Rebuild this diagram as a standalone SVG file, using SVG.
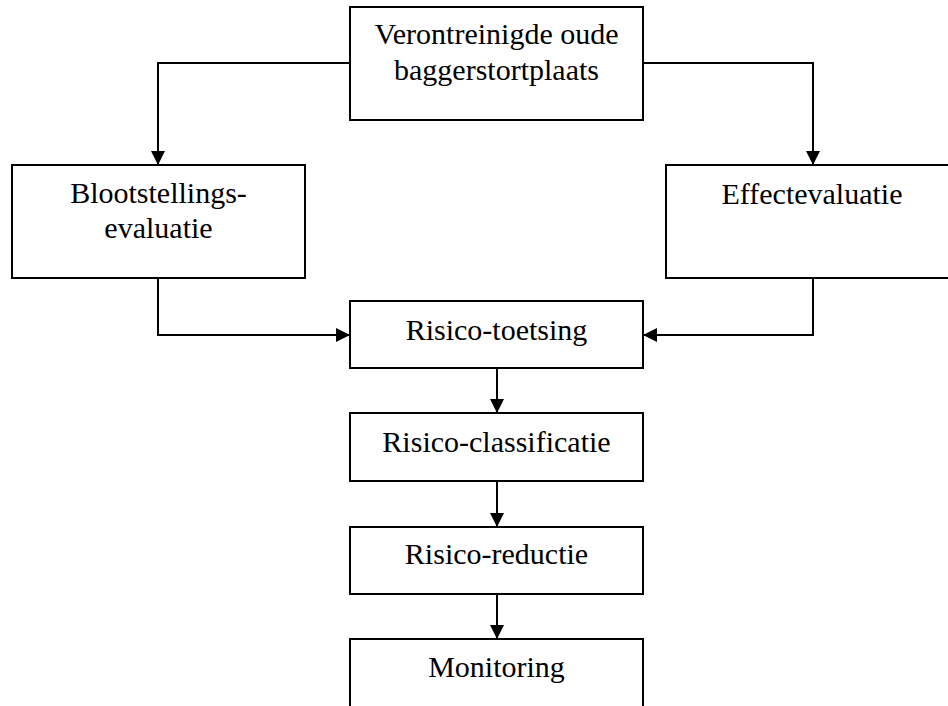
<svg xmlns="http://www.w3.org/2000/svg" width="948" height="706" viewBox="0 0 948 706">
  <style>
    .box { fill: #ffffff; stroke: #000000; stroke-width: 2; }
    .lbl { font-family: "Liberation Serif", "Times New Roman", serif; font-size: 30px; fill: #000000; text-anchor: middle; }
    .conn { fill: none; stroke: #000000; stroke-width: 2; }
  </style>
  <defs>
    <marker id="arrow" markerUnits="userSpaceOnUse" markerWidth="15" markerHeight="14" refX="14" refY="7" orient="auto">
      <path d="M0,0 L14,7 L0,14 Z" fill="#000000"/>
    </marker>
  </defs>
  <rect width="948" height="706" fill="#ffffff"/>

  <g id="connectors">
    <path class="conn" d="M350,63 H158 V165" marker-end="url(#arrow)"/>
    <path class="conn" d="M643,63 H813 V165" marker-end="url(#arrow)"/>
    <path class="conn" d="M158,278 V335 H350" marker-end="url(#arrow)"/>
    <path class="conn" d="M813,278 V335 H643" marker-end="url(#arrow)"/>
    <path class="conn" d="M497,368 V413" marker-end="url(#arrow)"/>
    <path class="conn" d="M497,481 V527" marker-end="url(#arrow)"/>
    <path class="conn" d="M497,594 V639" marker-end="url(#arrow)"/>
  </g>

  <g id="bron">
    <rect class="box" x="350" y="7" width="293" height="113"/>
    <text class="lbl" x="496.5" y="44">Verontreinigde oude</text>
    <text class="lbl" x="496.5" y="80">baggerstortplaats</text>
  </g>
  <g id="blootstelling">
    <rect class="box" x="12" y="165" width="293" height="113"/>
    <text class="lbl" x="158.5" y="203">Blootstellings-</text>
    <text class="lbl" x="158.5" y="238">evaluatie</text>
  </g>
  <g id="effect">
    <rect class="box" x="666" y="165" width="292" height="113"/>
    <text class="lbl" x="812" y="204">Effectevaluatie</text>
  </g>
  <g id="toetsing">
    <rect class="box" x="350" y="301" width="293" height="67"/>
    <text class="lbl" x="496.5" y="340">Risico-toetsing</text>
  </g>
  <g id="classificatie">
    <rect class="box" x="350" y="413" width="293" height="68"/>
    <text class="lbl" x="496.5" y="452">Risico-classificatie</text>
  </g>
  <g id="reductie">
    <rect class="box" x="350" y="527" width="293" height="67"/>
    <text class="lbl" x="496.5" y="564">Risico-reductie</text>
  </g>
  <g id="monitoring">
    <rect class="box" x="350" y="639" width="293" height="80"/>
    <text class="lbl" x="496.5" y="677">Monitoring</text>
  </g>
</svg>
